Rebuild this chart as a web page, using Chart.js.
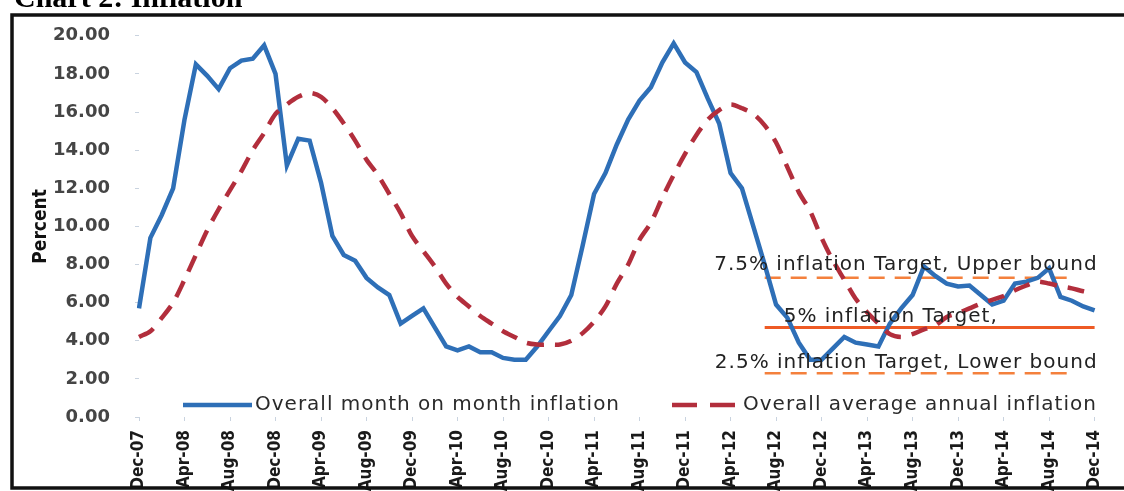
<!DOCTYPE html>
<html>
<head>
<meta charset="utf-8">
<script src="https://cdn.jsdelivr.net/npm/chart.js@4.4.0/dist/chart.umd.min.js"></script>
<style>
  html, body { margin: 0; padding: 0; background: #fff; }
  #wrap { position: relative; width: 1124px; height: 491px; }
</style>
</head>
<body>
<div id="wrap"><canvas id="c" width="1124" height="491"></canvas></div>
<script>
/* Chart 2: Inflation — month-on-month vs annual average, Dec-07 .. Dec-14 */

const MONTHS = ["Jan", "Feb", "Mar", "Apr", "May", "Jun", "Jul", "Aug", "Sep", "Oct", "Nov", "Dec"];
const categories = [];
for (let k = 0; k < 85; k++) {
  const m = (11 + k) % 12;
  const y = 7 + Math.floor((11 + k) / 12);
  categories.push(MONTHS[m] + "-" + String(y).padStart(2, "0"));
}

const yTicks = [0, 2, 4, 6, 8, 10, 12, 14, 16, 18, 20];

const monthOnMonth = [
  5.7, 9.4, 10.6, 12.0, 15.6, 18.5, 17.9, 17.2, 18.3, 18.7,
  18.8, 19.5, 18.0, 13.2, 14.6, 14.5, 12.3, 9.5, 8.5, 8.2,
  7.3, 6.8, 6.4, 4.9, 5.3, 5.7, 4.7, 3.7, 3.5, 3.7,
  3.4, 3.4, 3.1, 3.0, 3.0, 3.7, 4.5, 5.3, 6.4, 9.0,
  11.7, 12.8, 14.3, 15.6, 16.6, 17.3, 18.6, 19.6, 18.6, 18.1,
  16.7, 15.4, 12.8, 12.0, 10.0, 8.0, 5.9, 5.2, 3.9, 3.0,
  3.0, 3.6, 4.2, 3.9, 3.8, 3.7, 4.9, 5.7, 6.4, 7.9,
  7.4, 7.0, 6.85, 6.9, 6.4, 5.9, 6.1, 7.0, 7.1, 7.3,
  7.8, 6.3, 6.1, 5.8, 5.6,
];

const annualAverage = [
  4.2, 4.5, 5.2, 6.0, 7.2, 8.5, 9.8, 10.9, 11.9, 12.9,
  14.0, 14.9, 15.9, 16.4, 16.8, 17.0, 16.8, 16.2, 15.4, 14.5,
  13.5, 12.7, 11.7, 10.7, 9.5, 8.7, 7.9, 7.0, 6.3, 5.8,
  5.3, 4.9, 4.5, 4.2, 3.9, 3.8, 3.8, 3.8, 4.0, 4.4,
  5.0, 5.8, 7.0, 8.0, 9.3, 10.2, 11.5, 12.7, 13.8, 14.8,
  15.6, 16.1, 16.4, 16.2, 15.9, 15.3, 14.4, 13.1, 11.8, 10.8,
  9.4, 8.2, 7.2, 6.2, 5.5, 4.9, 4.35, 4.2, 4.35, 4.6,
  4.8, 5.25, 5.45, 5.7, 5.95, 6.15, 6.35, 6.65, 6.9, 7.1,
  7.0, 6.86, 6.75, 6.6, 6.5,
];

// inflation target band (values as drawn in the picture)
const targetUpper = 7.3;
const targetMid = 4.7;
const targetLower = 2.3;
const targetStart = "Jul-12";
const bandEnd = "Oct-14";
const midEnd = "Dec-14";

const targetLabels = {
  upper: "7.5% inflation Target, Upper bound",
  mid: "5% inflation Target,",
  lower: "2.5% inflation Target, Lower bound",
};

const BLUE = "#2E6FB7";
const RED = "#B22E3C";
const ORANGE = "#F4803C";
const ORANGE_SOLID = "#EE5A24";
const TEXT_FONT = "'DejaVu Sans', Verdana, sans-serif";
const NARROW = "'Liberation Sans Narrow', 'DejaVu Sans Condensed', 'Arial Narrow', sans-serif";

function span(value, from, to) {
  const a = categories.indexOf(from), b = categories.indexOf(to);
  return categories.map((_, i) => (i >= a && i <= b ? value : null));
}

/* ---- Decorations: frame, clipped title, in-plot legend, target captions ---- */
const decor = {
  id: "decor",
  beforeDraw(chart) {
    const ctx = chart.ctx;
    ctx.save();
    ctx.fillStyle = "#fff";
    ctx.fillRect(0, 0, chart.width, chart.height);
    ctx.restore();
  },
  afterDatasetsDraw(chart) {
    const ctx = chart.ctx;
    const a = chart.chartArea;
    const x = chart.scales.x, y = chart.scales.y;
    ctx.save();
    if ("letterSpacing" in ctx) ctx.letterSpacing = "1px";
    ctx.font = "20px " + TEXT_FONT;
    ctx.fillStyle = "#222";
    ctx.textBaseline = "alphabetic";

    // target captions
    ctx.textAlign = "right";
    ctx.fillText(targetLabels.upper, a.right + 3, y.getPixelForValue(targetUpper) - 8);
    ctx.fillText(targetLabels.lower, a.right + 3, y.getPixelForValue(targetLower) - 5);
    ctx.textAlign = "left";
    ctx.fillText(targetLabels.mid, x.getPixelForValue(categories.indexOf(targetStart)) + 19,
      y.getPixelForValue(targetMid) - 5);

    // legend
    const ly = a.bottom - 12;
    const ds = chart.data.datasets;
    ctx.lineWidth = 4.5;
    ctx.strokeStyle = ds[0].borderColor;
    ctx.beginPath(); ctx.moveTo(a.left + 44, ly); ctx.lineTo(a.left + 113, ly); ctx.stroke();
    ctx.strokeStyle = ds[1].borderColor;
    ctx.setLineDash([25, 13]);
    ctx.beginPath(); ctx.moveTo(a.left + 533, ly); ctx.lineTo(a.left + 601, ly); ctx.stroke();
    ctx.setLineDash([]);
    ctx.fillStyle = "#2a2a2a";
    ctx.textBaseline = "middle";
    ctx.fillText(ds[0].label, a.left + 116, ly);
    ctx.fillText(ds[1].label, a.left + 604, ly);
    ctx.restore();
  },
  afterDraw(chart) {
    const ctx = chart.ctx;
    ctx.save();
    // frame (right side runs off the page)
    ctx.strokeStyle = "#111";
    ctx.lineWidth = 3.5;
    ctx.strokeRect(12, 15, chart.width + 20, 473);
    // title, top half cut off by the page edge
    ctx.fillStyle = "#000";
    ctx.font = "bold 30px 'Liberation Serif', 'Times New Roman', serif";
    ctx.textBaseline = "alphabetic";
    ctx.fillText("Chart 2: Inflation", 14, 7);
    ctx.restore();
  },
};

new Chart(document.getElementById("c"), {
  type: "line",
  data: {
    labels: categories,
    datasets: [
      { label: "Overall month on month inflation", data: monthOnMonth, borderColor: BLUE,
        borderWidth: 4.5, pointRadius: 0, tension: 0, order: 1 },
      { label: "Overall average annual inflation", data: annualAverage, borderColor: RED,
        borderWidth: 4.5, borderDash: [17, 11], pointRadius: 0, tension: 0.3, order: 0 },
      { label: "upper", data: span(targetUpper, targetStart, bandEnd), borderColor: ORANGE,
        borderWidth: 2.5, borderDash: [16, 10], pointRadius: 0, order: 2 },
      { label: "mid", data: span(targetMid, targetStart, midEnd), borderColor: ORANGE_SOLID,
        borderWidth: 3, pointRadius: 0, order: 2 },
      { label: "lower", data: span(targetLower, targetStart, bandEnd), borderColor: ORANGE,
        borderWidth: 2.5, borderDash: [16, 10], pointRadius: 0, order: 2 },
    ],
  },
  options: {
    responsive: false,
    animation: false,
    devicePixelRatio: 1,
    layout: { padding: { left: 10, top: 32, right: 19, bottom: 0 } },
    plugins: { legend: { display: false }, tooltip: { enabled: false } },
    scales: {
      x: {
        offset: false,
        afterFit: (s) => { s.height = 74; },
        border: { display: false },
        grid: { drawOnChartArea: false, tickLength: 4, color: "#c9d3df" },
        ticks: {
          autoSkip: false, maxRotation: 90, minRotation: 90, padding: 9,
          color: "#1a1a1a", font: { family: NARROW, size: 17, weight: "bold" },
          callback: (v, i) => (i % 4 === 0 ? categories[i] : null),
        },
      },
      y: {
        min: 0, max: 20,
        afterFit: (s) => { s.width = 129; },
        afterBuildTicks: (s) => { s.ticks = yTicks.map((v) => ({ value: v })); },
        border: { display: false },
        grid: { drawOnChartArea: false, tickLength: 4, color: "#c9d3df" },
        ticks: {
          padding: 25, color: "#454545",
          font: { family: TEXT_FONT, size: 18, weight: "bold" },
          callback: (v) => Number(v).toFixed(2),
        },
        title: {
          display: true, text: "Percent", color: "#111", padding: { top: 20, bottom: 0 },
          font: { family: NARROW, size: 19, weight: "bold" },
        },
      },
    },
  },
  plugins: [decor],
});
</script>
</body>
</html>
